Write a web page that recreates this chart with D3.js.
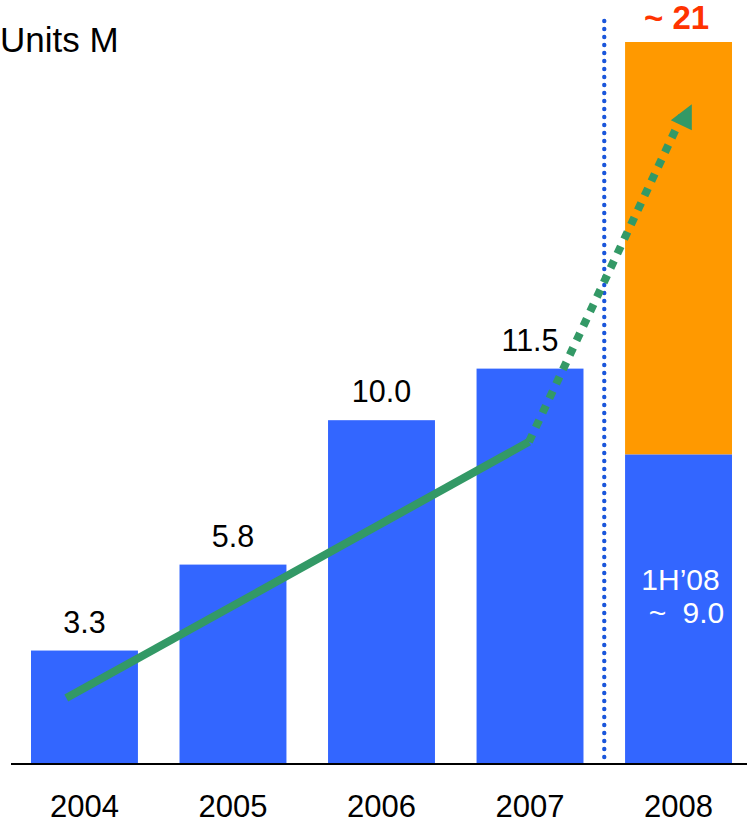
<!DOCTYPE html>
<html>
<head>
<meta charset="utf-8">
<script src="https://cdn.jsdelivr.net/npm/d3@7"></script>
<style>
  html, body { margin: 0; padding: 0; background: #fff; }
  svg { display: block; font-family: "Liberation Sans", Arial, sans-serif; }
</style>
</head>
<body>
<svg id="chart" width="747" height="824"></svg>
<script>
// Annual units (millions)
const years = ["2004", "2005", "2006", "2007", "2008"];
const units = [3.3, 5.8, 10.0, 11.5, 9.0];
const valueLabels = ["3.3", "5.8", "10.0", "11.5", null];
// 2008: first half actual plus full-year estimate
const firstHalfLabel = ["1H\u201908", "~ 9.0"];
const estimateTotal = 21;
const estimateLabel = "~ 21";
// Growth trend: [year, position within the bar (0..1), value]
const trendSolid = [["2004", 0.33, 1.92], ["2007", 0.49, 9.37]];
const trendDotted = [["2007", 0.49, 9.37], ["2008", 0.54, 18.9]];

const svg = d3.select("#chart");
const baseY = 764;

const x = d3.scaleBand().domain(years).range([31, 732]).paddingInner(0.28).paddingOuter(0);
const y = d3.scaleLinear().domain([0, estimateTotal]).range([baseY, 42]);

const BLUE = "#3366ff", ORANGE = "#ff9900", GREEN = "#339966", RED = "#ff3300";

// Estimate portion of 2008 (orange, stacked on the first-half value)
svg.append("rect")
  .attr("x", x("2008"))
  .attr("width", x.bandwidth())
  .attr("y", y(estimateTotal))
  .attr("height", y(units[4]) - y(estimateTotal))
  .attr("fill", ORANGE);

// Blue bars
svg.selectAll("rect.bar")
  .data(years.map((yr, i) => ({ yr, v: units[i] })))
  .join("rect")
  .attr("class", "bar")
  .attr("x", d => x(d.yr))
  .attr("width", x.bandwidth())
  .attr("y", d => y(d.v))
  .attr("height", d => y(0) - y(d.v))
  .attr("fill", BLUE);

// Divider between actuals and estimate
const divX = (x("2007") + x.bandwidth() + x("2008")) / 2;
svg.append("line")
  .attr("x1", divX).attr("x2", divX)
  .attr("y1", 21).attr("y2", baseY - 4)
  .attr("stroke", "#1a56db")
  .attr("stroke-width", 4.4)
  .attr("stroke-linecap", "round")
  .attr("stroke-dasharray", "0 8");

// Baseline axis
svg.append("line")
  .attr("x1", 11).attr("x2", 747)
  .attr("y1", baseY).attr("y2", baseY)
  .attr("stroke", "#000")
  .attr("stroke-width", 2);

// Year labels
svg.selectAll("text.year")
  .data(years)
  .join("text")
  .attr("class", "year")
  .attr("x", d => x(d) + x.bandwidth() / 2)
  .attr("y", 817)
  .attr("text-anchor", "middle")
  .attr("font-size", 31)
  .attr("fill", "#000")
  .text(d => d);

// Value labels above bars
svg.selectAll("text.val")
  .data(years.map((yr, i) => ({ yr, v: units[i], t: valueLabels[i] })).filter(d => d.t))
  .join("text")
  .attr("class", "val")
  .attr("x", d => x(d.yr) + x.bandwidth() / 2)
  .attr("y", d => y(d.v) - 18)
  .attr("text-anchor", "middle")
  .attr("font-size", 30.5)
  .attr("fill", "#000")
  .text(d => d.t);

// First-half label inside the 2008 bar
const c08 = x("2008") + x.bandwidth() / 2;
svg.append("text")
  .attr("x", c08 + 2).attr("y", 590)
  .attr("text-anchor", "middle")
  .attr("font-size", 30).attr("fill", "#fff")
  .text(firstHalfLabel[0]);
svg.append("text")
  .attr("x", c08 + 8).attr("y", 623)
  .attr("text-anchor", "middle")
  .attr("font-size", 30).attr("fill", "#fff")
  .attr("word-spacing", 8)
  .text(firstHalfLabel[1]);

// Estimate total label
svg.append("text")
  .attr("x", c08 - 2).attr("y", y(estimateTotal) - 13)
  .attr("text-anchor", "middle")
  .attr("font-size", 33).attr("font-weight", "bold")
  .attr("fill", RED)
  .text(estimateLabel);

// Unit title
svg.append("text")
  .attr("x", 0).attr("y", 52)
  .attr("font-size", 35).attr("fill", "#000")
  .text("Units M");

// Trend line
const pt = d => [x(d[0]) + x.bandwidth() * d[1], y(d[2])];
const line = d3.line();
svg.append("path")
  .attr("d", line(trendSolid.map(pt)))
  .attr("fill", "none")
  .attr("stroke", GREEN)
  .attr("stroke-width", 8);

const dotted = trendDotted.map(pt);
svg.append("path")
  .attr("d", line(dotted))
  .attr("fill", "none")
  .attr("stroke", GREEN)
  .attr("stroke-width", 8)
  .attr("stroke-dasharray", "8 8");

// Arrowhead at the end of the dotted segment
const [ex, ey] = dotted[1];
svg.append("path")
  .attr("d", `M${ex + 9},${ey - 10} L${ex - 12},${ey + 6} L${ex + 9},${ey + 16} Z`)
  .attr("fill", GREEN);
</script>
</body>
</html>
